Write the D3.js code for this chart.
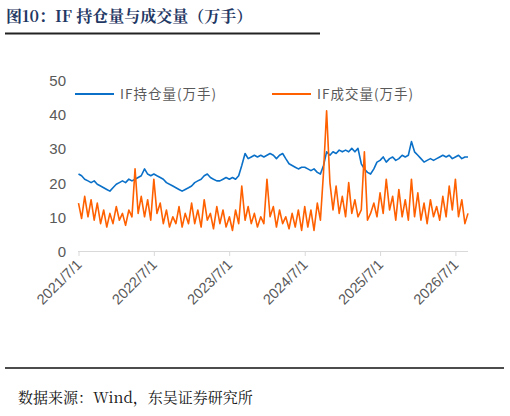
<!DOCTYPE html>
<html><head><meta charset="utf-8">
<script src="https://cdn.jsdelivr.net/npm/d3@7"></script>
<style>body{margin:0;background:#fff}</style>
</head><body><div id="chart"></div>
<script>
// semi-monthly samples starting 2021/7/1
var startDate = new Date(2021, 6, 1);
var openInterest = [22.5,22,21,20.5,20,20.5,19.5,19,18.5,18,17.5,18.5,
  19.5,20,20.5,20,21,20.5,21,21.5,22,24,22.5,22,
  22.5,22,21.5,21,20,19.5,19,18.5,18,17.5,18,18.5,
  19,20,20.5,21,22,22.5,21.5,21,20.5,20.5,21,21.5,
  21,21.5,21,22,25,28.5,27,27.5,28,27.5,28,27.5,
  28,28.5,28,27,28,28.5,27,25.5,25,24.5,24,24.5,
  24.5,24,23.5,24,23,22.5,25,29,28,29,28.5,29.5,
  29,29.5,29,30,29,30,25.5,24,23,22.5,24,26,
  26.5,27.5,26,27,27.5,26.5,27,28,27.5,28,32,29,
  28,27,26,26.5,27,26.5,27,27.5,28,27.5,28,27,
  27.5,28,27,27.5,27.5];
var volume = [14,9.5,16,10,15,9,14,8,12,7,11,8,
  13,9,11,7.5,12,10,24,11,16,10,15,9,
  21,11,14,8,12,7,10,8,13,7,11,8,
  14,8,12,7,15,9,11,6.5,13,8,12,7,
  10,6,12,8,19,9,13,8,11,7,10,8,
  21,10,13,7,12,8,10,6.5,11,7,12,6,
  13,7,12,6,14,9,23,41,20,12,19,11,
  16,10,20,11,15,10,12,29,9,11,14,10,
  17,11,21,12,16,9,18,10,15,9,21,10,
  17,9,14,8,15,10,13,9,16,10,19,12,
  21,10,15,8,11];
var yTicks = [0,10,20,30,40,50];
var xTicks = [new Date(2021,6,1),new Date(2022,6,1),new Date(2023,6,1),new Date(2024,6,1),new Date(2025,6,1),new Date(2026,6,1)];
var seriesNames = ['IF持仓量(万手)','IF成交量(万手)'];
var colors = ['#0A70C8','#FF6000'];

var dateAt = function(i) {
  var d = new Date(startDate);
  d.setDate(d.getDate() + Math.round(i * 365.25 / 24));
  return d;
};

var svg = d3.select('#chart').append('svg').attr('width',510).attr('height',416);

// title
svg.append('text').attr('x',6).attr('y',22)
  .attr('font-family','"Noto Serif CJK SC","Noto Sans CJK SC",serif').attr('font-weight','bold')
  .attr('font-size',16).attr('fill','#1F3864').text('图10：IF 持仓量与成交量（万手）');
svg.append('line').attr('x1',5).attr('x2',320).attr('y1',33.5).attr('y2',33.5)
  .attr('stroke','#222').attr('stroke-width',2);

var x = d3.scaleTime().domain([xTicks[0], dateAt(volume.length-1)]).range([78.5,468]);
var y = d3.scaleLinear().domain([0,50]).range([251,80]);

// y labels
svg.selectAll('.yl').data(yTicks).enter().append('text')
  .attr('x',66).attr('y',function(d){return y(d)+6;})
  .attr('text-anchor','end').attr('font-family','Liberation Sans, Arial')
  .attr('font-size',15).attr('fill','#595959').text(function(d){return d;});

// x axis
var xa = svg.append('g').attr('transform','translate(0,251)')
  .call(d3.axisBottom(x).tickValues(xTicks).tickSize(5).tickFormat(d3.timeFormat('%Y/%-m/%-d')));
xa.select('.domain').attr('stroke','#D9D9D9').attr('d','M78,0.5H468');
xa.selectAll('.tick line').attr('stroke','#D9D9D9');
xa.selectAll('.tick text').attr('font-family','Liberation Sans, Arial').attr('font-size',14.5)
  .attr('fill','#595959').attr('text-anchor','end')
  .attr('x',0).attr('y',0).attr('dy','0.35em')
  .attr('transform','translate(0,11) rotate(-45)');

var line = d3.line().x(function(d,i){return x(dateAt(i));}).y(function(d){return y(d);});
[openInterest, volume].forEach(function(s,k){
  svg.append('path').datum(s).attr('d',line).attr('fill','none')
    .attr('stroke',colors[k]).attr('stroke-width',1.6).attr('stroke-linejoin','round');
});

// legend
var lx = [75, 272];
seriesNames.forEach(function(n,k){
  svg.append('line').attr('x1',lx[k]).attr('x2',lx[k]+39).attr('y1',94).attr('y2',94)
    .attr('stroke',colors[k]).attr('stroke-width',2);
  svg.append('text').attr('x',lx[k]+45).attr('y',99).attr('font-family','"Noto Sans CJK SC"')
    .attr('font-size',13.5).attr('letter-spacing',1).attr('fill','#595959').text(n);
});

// footer
svg.append('line').attr('x1',5).attr('x2',504).attr('y1',368).attr('y2',368)
  .attr('stroke','#111').attr('stroke-width',1.5);
svg.append('text').attr('x',18).attr('y',403)
  .attr('font-family','"Noto Serif CJK SC","Liberation Serif",serif')
  .attr('font-size',15).attr('fill','#111').text('数据来源：Wind，东吴证券研究所');
</script></body></html>
